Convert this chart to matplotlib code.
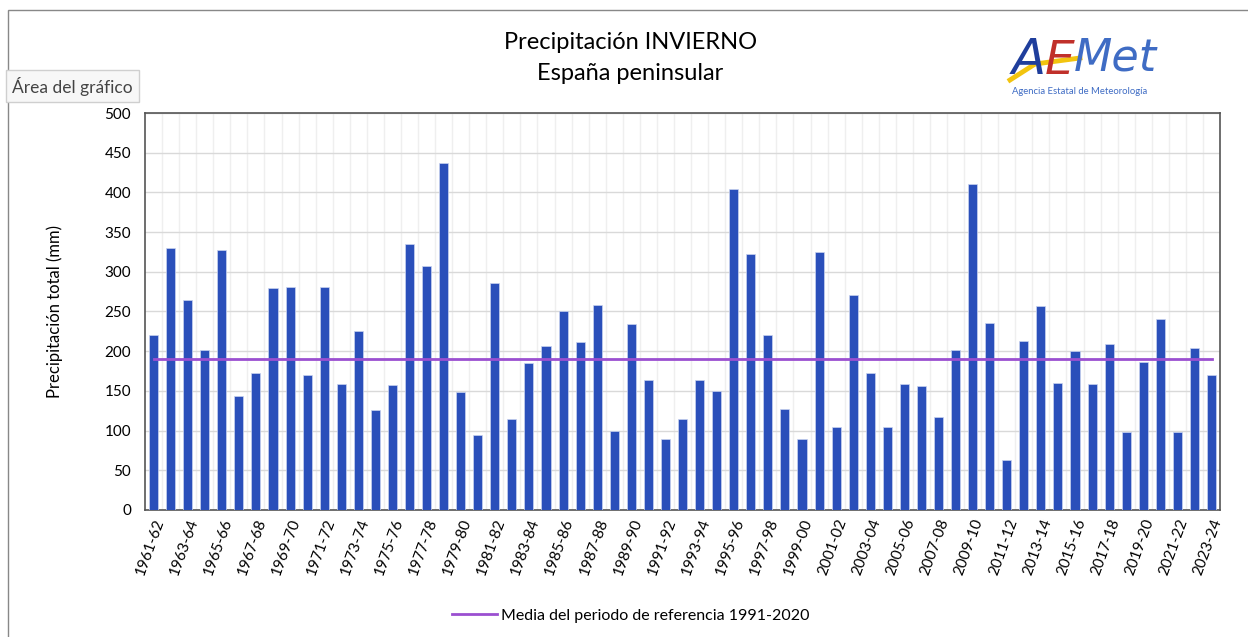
import matplotlib
matplotlib.use("Agg")
import matplotlib.pyplot as plt
from matplotlib.patches import Rectangle
import numpy as np

# Seasons 1961-62 .. 2023-24 and winter precipitation (mm)
seasons = ["%d-%02d" % (y, (y + 1) % 100) for y in range(1961, 2024)]
precip = [221, 330, 264, 201, 327, 143, 172, 280, 281, 170,
          281, 159, 226, 126, 157, 335, 307, 437, 148, 94,
          286, 114, 185, 207, 250, 211, 258, 99, 234, 164,
          90, 114, 164, 150, 404, 322, 220, 127, 90, 325,
          105, 271, 172, 105, 159, 156, 117, 201, 411, 236,
          63, 213, 257, 160, 200, 159, 209, 98, 187, 240,
          98, 204, 170]
ref_mean = 190  # media 1991-2020

plt.rcParams['font.family'] = ['Lato', 'DejaVu Sans']

fig = plt.figure(figsize=(12.48, 6.37), dpi=100)
ax = fig.add_axes([0.1162, 0.1994, 0.8614, 0.6232])

x = np.arange(len(seasons))
ax.bar(x, precip, width=0.53, color='#2a4fba', edgecolor='#c9d3f0', linewidth=0.5, zorder=3)
ax.plot([x[0], x[-1]], [ref_mean, ref_mean], color='#9b4fd0', linewidth=2, zorder=4,
        label='Media del periodo de referencia 1991-2020')

ax.set_xlim(-0.5, len(seasons) - 0.5)
ax.set_ylim(0, 500)
ax.set_yticks(range(0, 501, 50))
ax.set_xticks(x[::2])
ax.set_xticklabels(seasons[::2], rotation=70, ha='right', rotation_mode='anchor', fontsize=11)
ax.set_xticks(x[:-1] + 0.5, minor=True)
ax.tick_params(axis='x', which='both', length=0, pad=5)
ax.tick_params(axis='y', length=0, labelsize=11, pad=10)
ax.grid(axis='y', which='major', color='#d9d9d9', linewidth=1, zorder=0)
ax.grid(axis='x', which='minor', color='#efefef', linewidth=1, zorder=0)
for s in ax.spines.values():
    s.set_color('#555555')
    s.set_linewidth(1.2)

ax.set_ylabel('Precipitación total (mm)', fontsize=12, labelpad=30)

fig.text(0.505, 0.934, 'Precipitación INVIERNO', ha='center', va='center', fontsize=17)
fig.text(0.505, 0.884, 'España peninsular', ha='center', va='center', fontsize=17)

ax.legend(loc='upper center', bbox_to_anchor=(0.452, -0.212), frameon=False, fontsize=11.5,
          handlelength=2.8, handletextpad=0.3)

# outer chart border
fig.patches.append(Rectangle((8 / 1248, -0.01), 1.0, (627 / 637) + 0.01, transform=fig.transFigure,
                             fill=False, edgecolor='#888888', linewidth=1))

# tooltip
fig.text(12 / 1248, 1 - 86 / 637, 'Área del gráfico', ha='left', va='center', fontsize=12.5,
         color='#444444',
         bbox=dict(boxstyle='square,pad=0.35', facecolor='#f7f7f7', edgecolor='#cfcfcf'))

# AEMet logo
fig.text(1012 / 1248, 1 - 60 / 637, 'A', color='#1f3e9c', fontsize=36, ha='left', va='center',
         family='DejaVu Sans', style='italic')
fig.text(1045 / 1248, 1 - 61 / 637, 'E', color='#c0302a', fontsize=34, ha='left', va='center',
         family='DejaVu Sans', style='italic')
fig.text(1074 / 1248, 1 - 58 / 637, 'Met', color='#3f6cc4', fontsize=32, ha='left', va='center',
         family='DejaVu Sans', style='italic')
fig.lines.append(plt.Line2D([1010 / 1248, 1035 / 1248, 1080 / 1248], [1 - 80 / 637, 1 - 64 / 637, 1 - 58 / 637],
                            transform=fig.transFigure, color='#f2c40f', linewidth=3.5))
fig.text(1012 / 1248, 1 - 91 / 637, 'Agencia Estatal de Meteorología', color='#3f6cc4', fontsize=6.8,
         ha='left', va='center')

fig.savefig('out.png', dpi=100, facecolor='white')
